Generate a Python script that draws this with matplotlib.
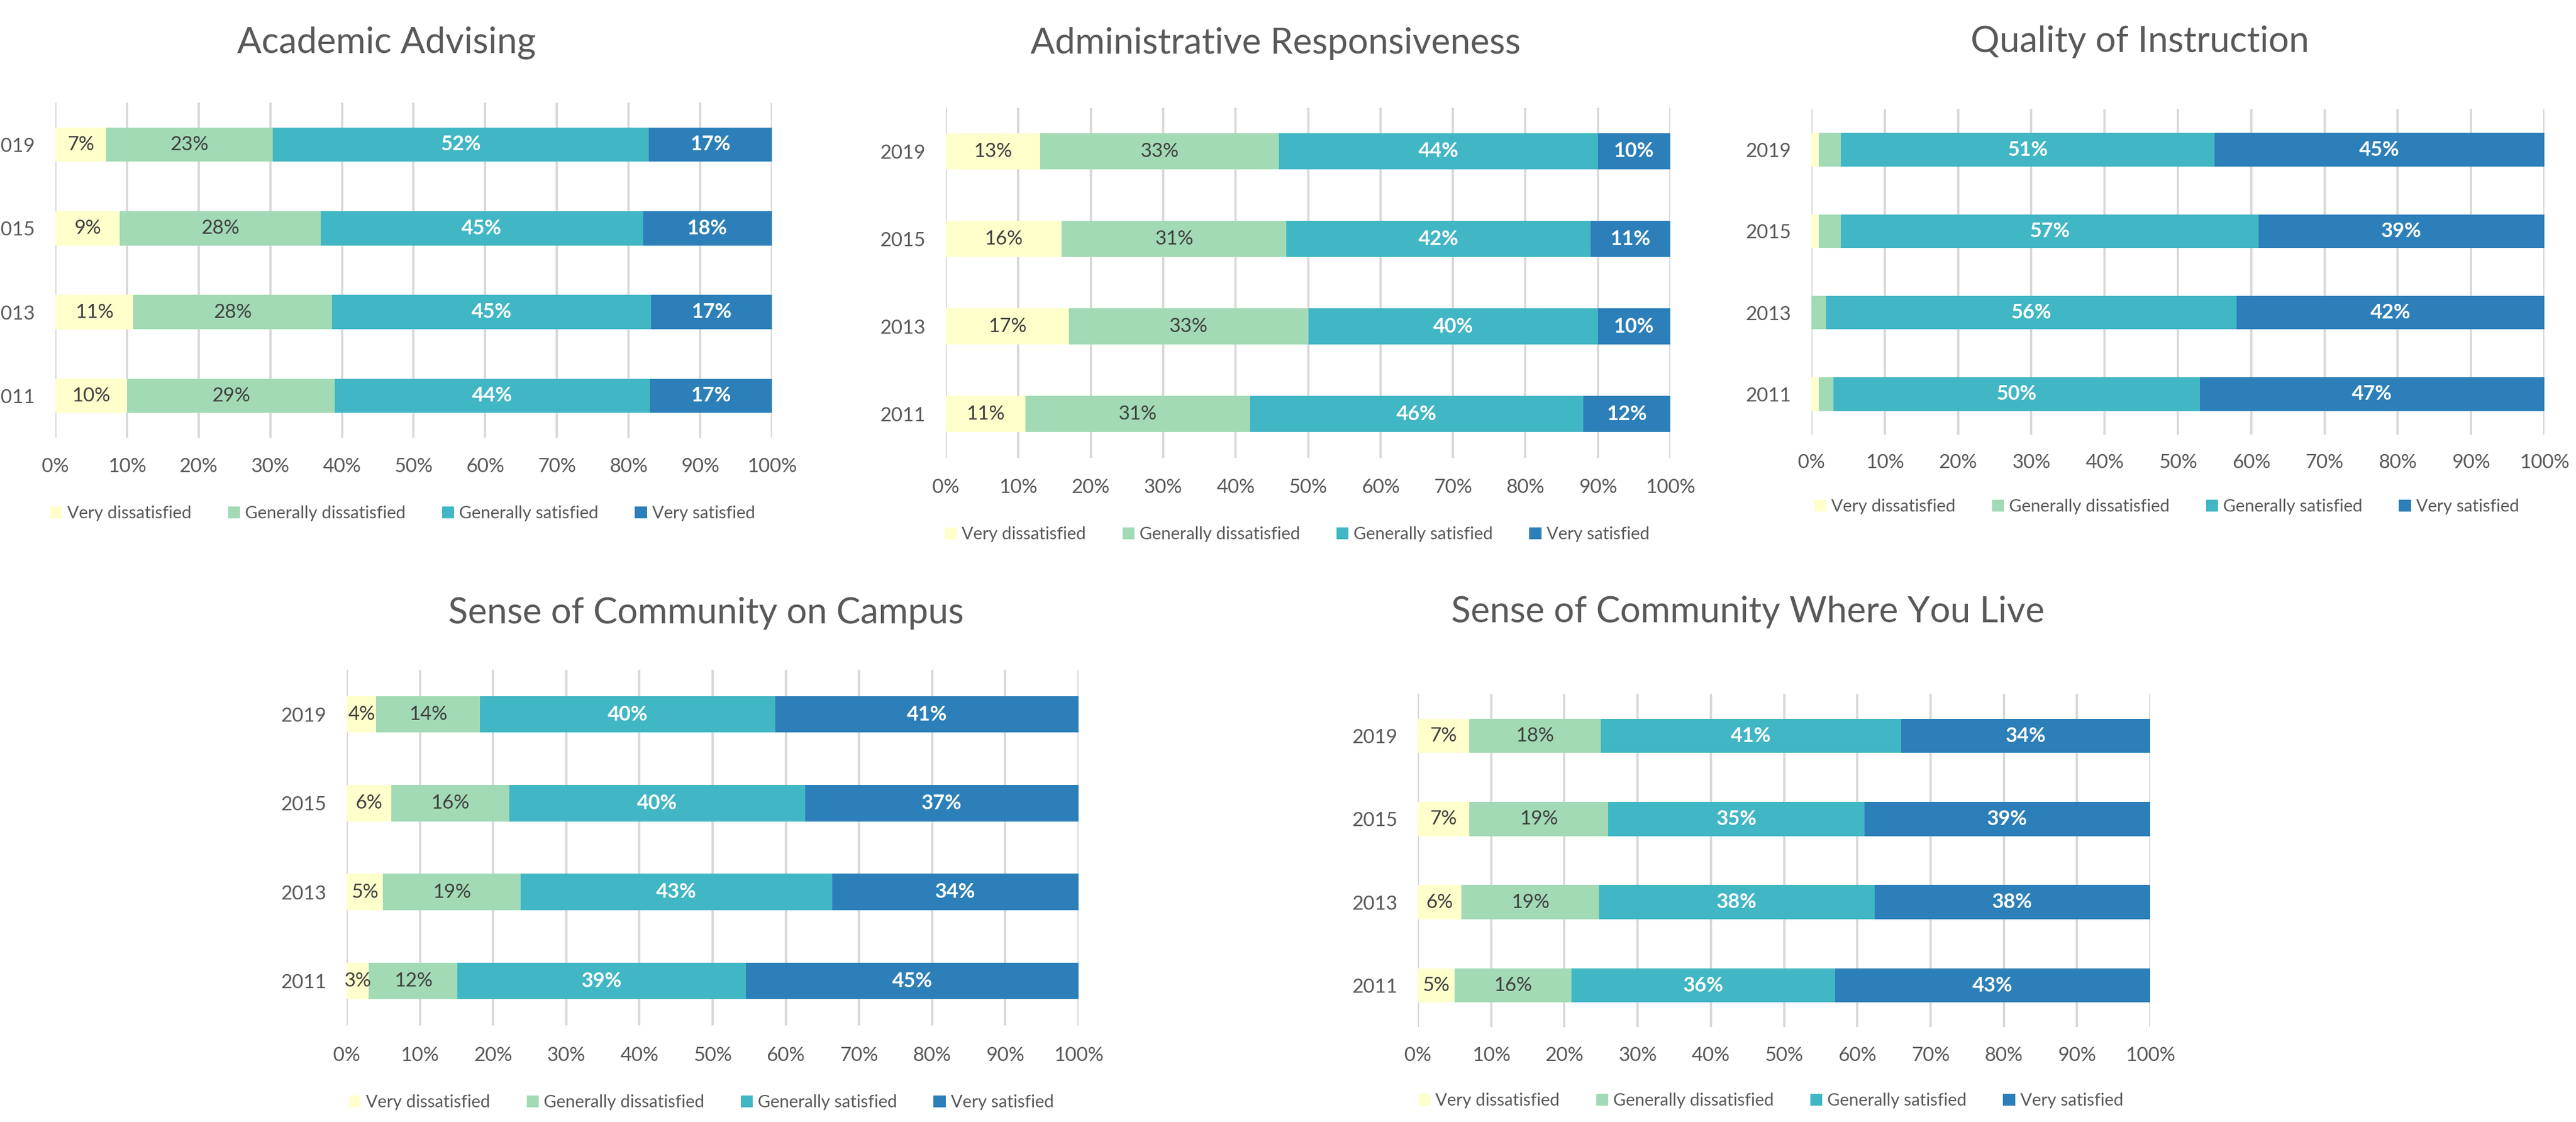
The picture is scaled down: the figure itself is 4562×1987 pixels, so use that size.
import matplotlib
matplotlib.use("Agg")
import matplotlib.pyplot as plt
import numpy as np

plt.rcParams['font.family'] = ['Lato', 'DejaVu Sans']

# ---- data (rows: 2019, 2015, 2013, 2011) ----
years = ['2019', '2015', '2013', '2011']
levels = ['Very dissatisfied', 'Generally dissatisfied', 'Generally satisfied', 'Very satisfied']
colors = ['#FFFFCC', '#A1DAB4', '#41B6C4', '#2C7FB8']

advising_vd = [7, 9, 11, 10]
advising_gd = [23, 28, 28, 29]
advising_gs = [52, 45, 45, 44]
advising_vs = [17, 18, 17, 17]

admin_vd = [13, 16, 17, 11]
admin_gd = [33, 31, 33, 31]
admin_gs = [44, 42, 40, 46]
admin_vs = [10, 11, 10, 12]

instr_vd = [1, 1, 0, 1]
instr_gd = [3, 3, 2, 2]
instr_gs = [51, 57, 56, 50]
instr_vs = [45, 39, 42, 47]

campus_vd = [4, 6, 5, 3]
campus_gd = [14, 16, 19, 12]
campus_gs = [40, 40, 43, 39]
campus_vs = [41, 37, 34, 45]

live_vd = [7, 7, 6, 5]
live_gd = [18, 19, 19, 16]
live_gs = [41, 35, 38, 36]
live_vs = [34, 39, 38, 43]

titles = ['Academic Advising', 'Administrative Responsiveness', 'Quality of Instruction',
          'Sense of Community on Campus', 'Sense of Community Where You Live']

W, H = 4562, 1987
fig = plt.figure(figsize=(W / 100, H / 100), dpi=100)

# layout in pixels: 0% x, 100% x, centre of top bar, centre of bottom bar, title xy, legend xy
charts = [
    dict(data=[advising_vd, advising_gd, advising_gs, advising_vs], x0=98, x1=1367,
         ct=256, cb=701, title=(685, 76), leg=(713, 909), lab=[1, 1, 1, 1]),
    dict(data=[admin_vd, admin_gd, admin_gs, admin_vs], x0=1675, x1=2958,
         ct=268, cb=733, title=(2259, 77), leg=(2297, 946), lab=[1, 1, 1, 1]),
    dict(data=[instr_vd, instr_gd, instr_gs, instr_vs], x0=3208, x1=4506,
         ct=265, cb=698, title=(3790, 74), leg=(3837, 897), lab=[0, 0, 1, 1]),
    dict(data=[campus_vd, campus_gd, campus_gs, campus_vs], x0=614, x1=1910,
         ct=1265, cb=1737, title=(1250, 1086), leg=(1242, 1952), lab=[1, 1, 1, 1]),
    dict(data=[live_vd, live_gd, live_gs, live_vs], x0=2511, x1=3808,
         ct=1303, cb=1745, title=(3095, 1084), leg=(3136, 1949), lab=[1, 1, 1, 1]),
]

ypos = np.arange(len(years))[::-1]  # 2019 on top

for ch, title in zip(charts, titles):
    s = (ch['cb'] - ch['ct']) / 3.0
    top = ch['ct'] - s / 2
    bot = ch['cb'] + s / 2
    ax = fig.add_axes([ch['x0'] / W, 1 - bot / H, (ch['x1'] - ch['x0']) / W, (bot - top) / H])

    vals = np.array(ch['data'], dtype=float)
    vals = vals / vals.sum(axis=0)  # 100% stacked
    left = np.zeros(len(years))
    for i, (lvl, col) in enumerate(zip(levels, colors)):
        ax.barh(ypos, vals[i], left=left, height=0.41, color=col, label=lvl, zorder=2)
        if ch['lab'][i]:
            for y, l, v, raw in zip(ypos, left, vals[i], ch['data'][i]):
                dark = i < 2
                ax.text(l + v / 2, y, f'{raw}%', ha='center', va='center',
                        fontsize=26 if not dark else 25,
                        color='#404040' if dark else 'white',
                        fontweight='normal' if dark else 'bold', zorder=3)
        left += vals[i]

    ax.set_xlim(0, 1)
    ax.set_ylim(-0.5, 3.5)
    ax.set_xticks(np.linspace(0, 1, 11))
    ax.set_xticklabels([f'{k}%' for k in range(0, 101, 10)])
    ax.set_yticks(ypos)
    ax.set_yticklabels(years)
    ax.grid(axis='x', color='#D9D9D9', linewidth=3, zorder=0)
    for sp in ax.spines.values():
        sp.set_visible(False)
    ax.tick_params(axis='both', length=0, labelsize=25, colors='#595959')
    ax.tick_params(axis='y', pad=26)
    ax.tick_params(axis='x', pad=0.34 * s * 0.72)
    for t in ax.get_xticklabels():
        t.set_va('center')

    fig.text(ch['title'][0] / W, 1 - ch['title'][1] / H, title, ha='center', va='center',
             fontsize=46, color='#595959')
    ax.legend(loc='center', bbox_to_anchor=(ch['leg'][0] / W, 1 - ch['leg'][1] / H),
              bbox_transform=fig.transFigure, ncol=4, frameon=False, fontsize=22,
              handlelength=0.7, handleheight=0.7, handletextpad=0.3, columnspacing=2.1,
              labelcolor='#595959')

fig.savefig('out.png', dpi=100)
